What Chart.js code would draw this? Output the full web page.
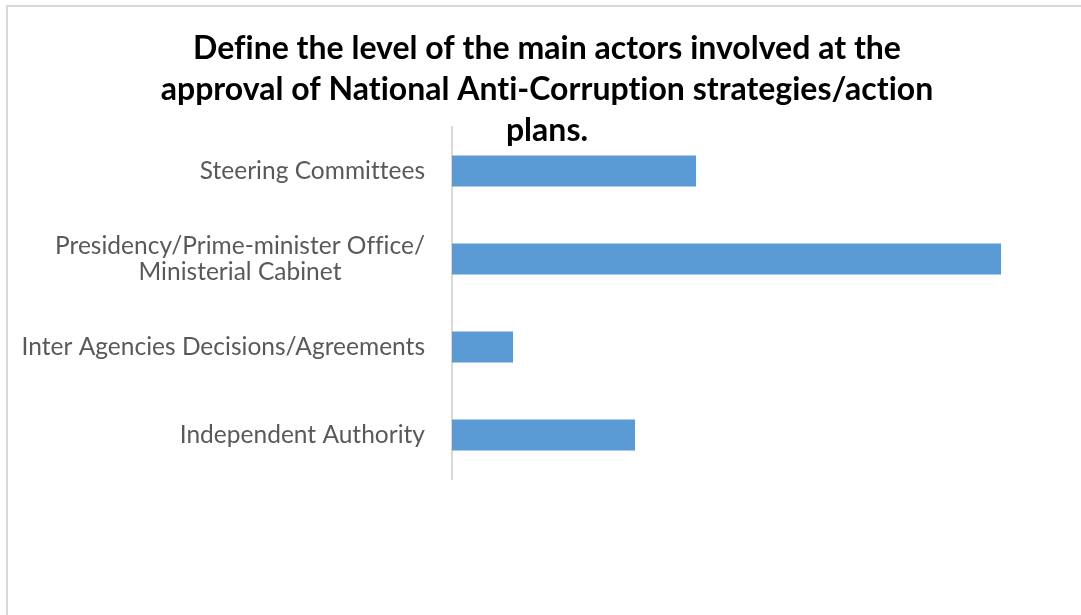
<!DOCTYPE html>
<html>
<head>
<meta charset="utf-8">
<script src="https://cdn.jsdelivr.net/npm/chart.js@4.4.1/dist/chart.umd.min.js"></script>
<style>
  html, body { margin: 0; padding: 0; background: #fff; overflow: hidden; }
  #wrap { position: relative; width: 1081px; height: 615px; }
  #frame {
    position: absolute; left: 6px; top: 5px;
    width: 1200px; height: 800px;
    border: 2px solid #d9d9d9; box-sizing: border-box;
  }
  #grafico { position: absolute; left: 0; top: 0; }
</style>
</head>
<body>
<div id="wrap">
  <div id="frame"></div>
  <canvas id="grafico" width="1081" height="615"></canvas>
</div>
<script>
const tituloLinhas = [
  'Define the level of the main actors involved at the',
  'approval of National Anti-Corruption strategies/action',
  'plans.'
];

const categorias = [
  ['Steering Committees'],
  ['Presidency/Prime-minister Office/', 'Ministerial Cabinet'],
  ['Inter Agencies Decisions/Agreements'],
  ['Independent Authority']
];

const respostas = [4, 9, 1, 3];

const eixoMin = 0;
const eixoMax = 10;

const FONTE = 'Lato, Carlito, Calibri, sans-serif';

// title drawn by hand so it can sit over the top of the plot area
const tituloPlugin = {
  id: 'tituloPlugin',
  afterDraw(chart) {
    const ctx = chart.ctx;
    ctx.save();
    ctx.font = 'bold 32px ' + FONTE;
    ctx.letterSpacing = '0.01px'; // keeps "ti" from turning into a ligature
    ctx.fillStyle = '#000000';
    ctx.textAlign = 'center';
    ctx.textBaseline = 'alphabetic';
    const base = [59, 100, 141];
    tituloLinhas.forEach((linha, i) => ctx.fillText(linha, 547, base[i]));
    ctx.restore();
  }
};

// category labels: right-aligned block, lines centred inside the block
const rotulosPlugin = {
  id: 'rotulosPlugin',
  afterDraw(chart) {
    const ctx = chart.ctx;
    const y = chart.scales.y;
    ctx.save();
    ctx.font = '24.5px ' + FONTE;
    ctx.letterSpacing = '0.01px';
    ctx.fillStyle = '#595959';
    ctx.textAlign = 'center';
    ctx.textBaseline = 'middle';
    const direita = chart.chartArea.left - 27;
    const altLinha = 26;
    categorias.forEach((linhas, i) => {
      const py = y.getPixelForTick(i);
      const larg = Math.max(...linhas.map(l => ctx.measureText(l).width));
      const cx = direita - larg / 2;
      const topo = py - (linhas.length - 1) * altLinha / 2;
      linhas.forEach((l, j) => ctx.fillText(l, cx, topo + j * altLinha));
    });
    ctx.restore();
  }
};

new Chart(document.getElementById('grafico'), {
  type: 'bar',
  data: {
    labels: categorias,
    datasets: [{
      data: respostas,
      backgroundColor: '#5b9bd5',
      borderWidth: 0,
      categoryPercentage: 1,
      barPercentage: 0.352
    }]
  },
  options: {
    indexAxis: 'y',
    responsive: false,
    animation: false,
    events: [],
    layout: { padding: { top: 127, right: 19, bottom: 136, left: 0 } },
    plugins: {
      legend: { display: false },
      title: { display: false },
      tooltip: { enabled: false }
    },
    scales: {
      x: {
        display: false,
        min: eixoMin,
        max: eixoMax
      },
      y: {
        grid: { display: false, drawTicks: false },
        border: { display: true, color: '#d9d9d9', width: 2 },
        ticks: { display: false },
        afterFit: s => { s.width = 452; }
      }
    }
  },
  plugins: [tituloPlugin, rotulosPlugin]
});
</script>
</body>
</html>
